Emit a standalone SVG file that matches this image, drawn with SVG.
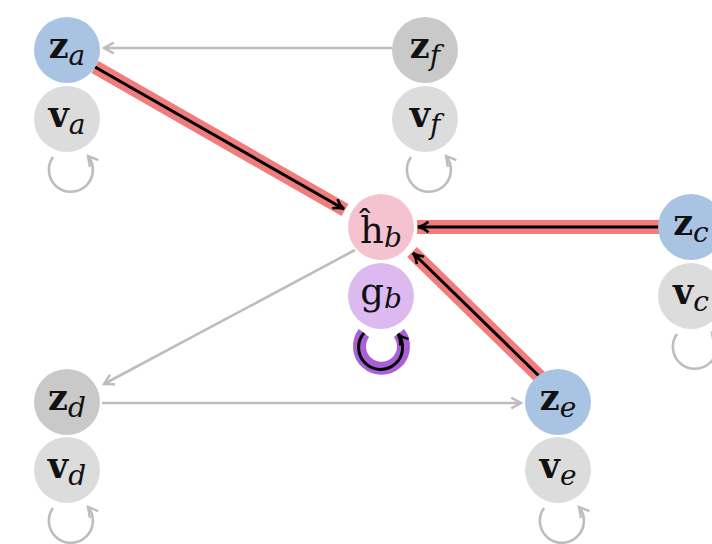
<svg xmlns="http://www.w3.org/2000/svg" width="712" height="544" viewBox="0 0 712 544">
<defs>
<marker id="ag" viewBox="0 0 12 12" refX="10" refY="6" markerWidth="13" markerHeight="13" markerUnits="userSpaceOnUse" orient="auto">
<path d="M1,1 L10,6 L1,11" fill="none" stroke="#bdbdbd" stroke-width="2.2"/>
</marker>
<marker id="ab" viewBox="0 0 12 12" refX="10" refY="6" markerWidth="14" markerHeight="14" markerUnits="userSpaceOnUse" orient="auto">
<path d="M1,1.5 Q5,5 10,6 Q5,7 1,10.5" fill="none" stroke="#000" stroke-width="2.2"/>
</marker>
</defs>
<style>
.t{font-family:"DejaVu Serif","Liberation Serif",serif;fill:#111;}
.m{font-weight:bold;font-size:35px;}
.s{font-style:italic;font-size:28px;}
.r{font-size:37px;}
.blue{fill:#a9c3e3;}
.dg{fill:#c9c9c9;}
.lg{fill:#dcdcdc;}
.gray{stroke:#bdbdbd;stroke-width:2.6;fill:none;}
.hl{stroke:#f07c7c;stroke-width:14;fill:none;}
.bk{stroke:#000;stroke-width:3;fill:none;}
</style>
<rect width="712" height="544" fill="#fff"/>
<g id="connectors">
<line class="gray" x1="392" y1="48" x2="104" y2="48" marker-end="url(#ag)"/>
<line class="gray" x1="355" y1="250" x2="104" y2="384" marker-end="url(#ag)"/>
<line class="gray" x1="102" y1="403" x2="521" y2="403" marker-end="url(#ag)"/>
<line class="hl" x1="95" y1="67" x2="345" y2="210"/>
<line class="bk" x1="95" y1="67" x2="344" y2="209" marker-end="url(#ab)"/>
<line class="hl" x1="660" y1="227" x2="417" y2="227"/>
<line class="bk" x1="660" y1="227" x2="418" y2="227" marker-end="url(#ab)"/>
<line class="hl" x1="540" y1="377" x2="412" y2="252"/>
<line class="bk" x1="540" y1="377" x2="413" y2="253" marker-end="url(#ab)"/>
<path class="gray" d="M53,157 A22,22 0 1 0 88,156" marker-end="url(#ag)"/>
<path class="gray" d="M411,157 A22,22 0 1 0 446,156" marker-end="url(#ag)"/>
<path class="gray" d="M677,334 A22,22 0 1 0 712,333" marker-end="url(#ag)"/>
<path class="gray" d="M53,508 A22,22 0 1 0 88,507" marker-end="url(#ag)"/>
<path class="gray" d="M544,508 A22,22 0 1 0 579,507" marker-end="url(#ag)"/>
<path d="M364,333 A22,22 0 1 0 399,333" fill="none" stroke="#a95fd6" stroke-width="13"/>
<path d="M364,333 A22,22 0 1 0 398,334" class="bk" marker-end="url(#ab)"/>
</g>
<g id="za"><circle class="blue" cx="67" cy="50" r="33"/><text class="t" x="67" y="58" text-anchor="middle"><tspan class="m">z</tspan><tspan class="s" dy="7">a</tspan></text></g>
<g id="va"><circle class="lg" cx="67" cy="119" r="33"/><text class="t" x="67" y="127" text-anchor="middle"><tspan class="m">v</tspan><tspan class="s" dy="7">a</tspan></text></g>
<g id="zf"><circle class="dg" cx="425" cy="50" r="33"/><text class="t" x="425" y="58" text-anchor="middle"><tspan class="m">z</tspan><tspan class="s" dy="7">f</tspan></text></g>
<g id="vf"><circle class="lg" cx="425" cy="119" r="33"/><text class="t" x="425" y="127" text-anchor="middle"><tspan class="m">v</tspan><tspan class="s" dy="7">f</tspan></text></g>
<g id="hb"><circle fill="#f5c3cf" cx="381" cy="227" r="33"/><text class="t" x="381" y="243" text-anchor="middle"><tspan class="r">ĥ</tspan><tspan class="s" dy="4">b</tspan></text></g>
<g id="gb"><circle fill="#dcbaf0" cx="381" cy="296" r="33"/><text class="t" x="381" y="304" text-anchor="middle"><tspan class="r">g</tspan><tspan class="s" dy="4">b</tspan></text></g>
<g id="zc"><circle class="blue" cx="691" cy="227" r="33"/><text class="t" x="691" y="235" text-anchor="middle"><tspan class="m">z</tspan><tspan class="s" dy="7">c</tspan></text></g>
<g id="vc"><circle class="lg" cx="691" cy="296" r="33"/><text class="t" x="691" y="304" text-anchor="middle"><tspan class="m">v</tspan><tspan class="s" dy="7">c</tspan></text></g>
<g id="zd"><circle class="dg" cx="67" cy="402" r="33"/><text class="t" x="67" y="410" text-anchor="middle"><tspan class="m">z</tspan><tspan class="s" dy="7">d</tspan></text></g>
<g id="vd"><circle class="lg" cx="67" cy="470" r="33"/><text class="t" x="67" y="478" text-anchor="middle"><tspan class="m">v</tspan><tspan class="s" dy="7">d</tspan></text></g>
<g id="ze"><circle class="blue" cx="558" cy="402" r="33"/><text class="t" x="558" y="410" text-anchor="middle"><tspan class="m">z</tspan><tspan class="s" dy="7">e</tspan></text></g>
<g id="ve"><circle class="lg" cx="558" cy="470" r="33"/><text class="t" x="558" y="478" text-anchor="middle"><tspan class="m">v</tspan><tspan class="s" dy="7">e</tspan></text></g>
</svg>
